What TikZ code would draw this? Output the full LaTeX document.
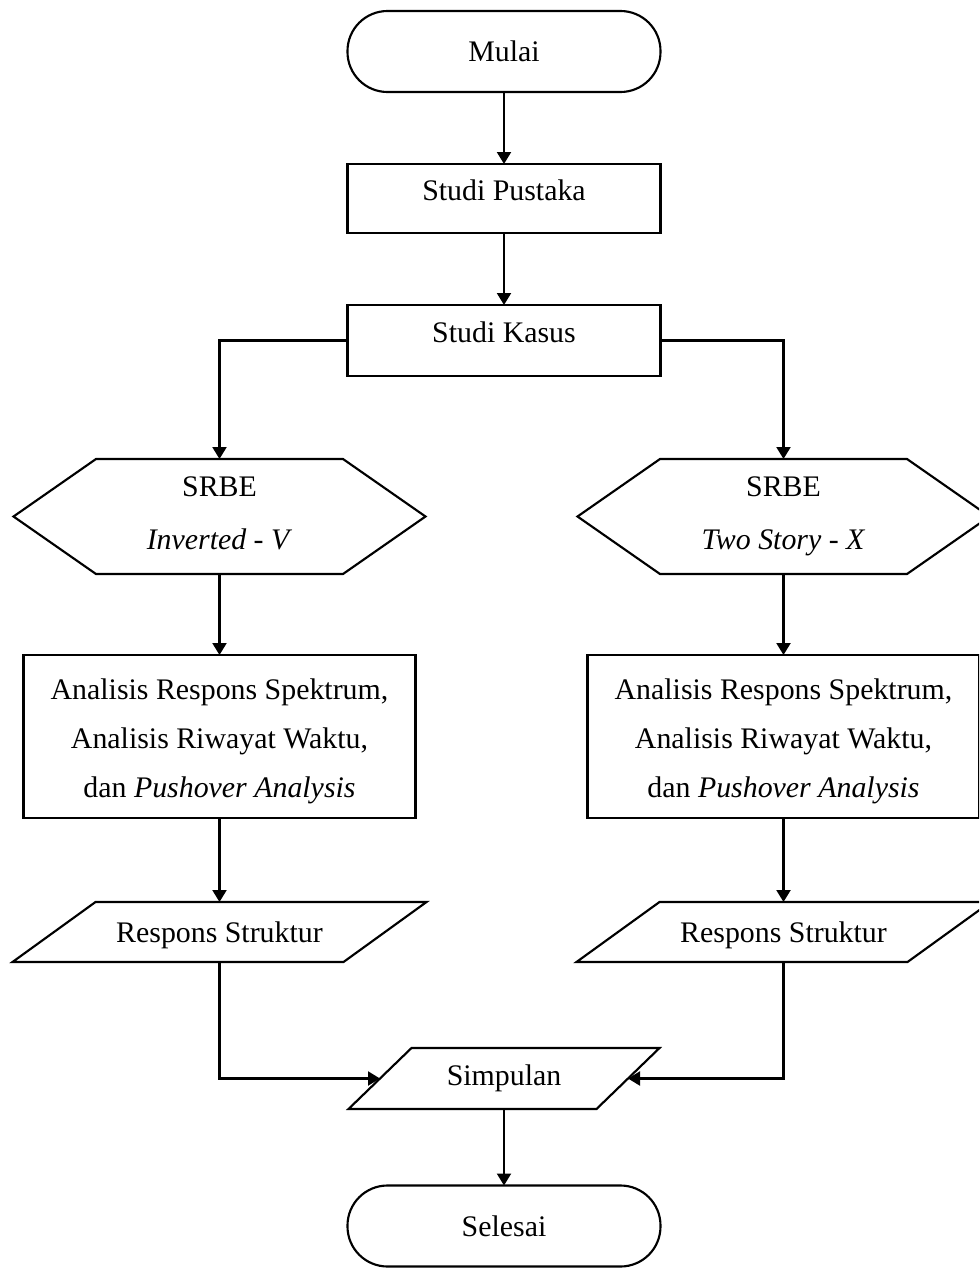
\documentclass[tikz,border=0pt]{standalone}
\usepackage{fontspec}
\setmainfont{Liberation Serif}
\usetikzlibrary{arrows.meta}
\begin{document}
\begin{tikzpicture}[x=0.75pt,y=-0.75pt,
  line width=1.6pt,
  every node/.style={font=\fontsize{22.4pt}{36.75pt}\selectfont, inner sep=0pt, outer sep=0pt},
  termnode/.style={draw, rounded corners=30pt, minimum width=234.75pt, minimum height=60.75pt},
  procbox/.style={draw, minimum width=234.75pt, text height=0.66em, text depth=0.3em},
  hexholder/.style={minimum width=309pt, minimum height=86.25pt, align=center},
  anabox/.style={draw, minimum width=294pt, minimum height=122.25pt, align=center},
  resholder/.style={minimum width=310.5pt, minimum height=45pt, text depth=0pt},
  simpholder/.style={minimum width=233.25pt, minimum height=45.75pt},
  arr/.style={-{Triangle[length=9pt,width=10.5pt]}}
]
\useasboundingbox (0,0) rectangle (979,1268);
\clip (0,0) rectangle (979,1268);

% nodes
\node[termnode] (mulai) at (504,51.5) {Mulai};
\node[procbox, minimum height=51.75pt] (pustaka) at (504,198.5) {Studi Pustaka};
\node[procbox, minimum height=53.25pt] (kasus) at (504,340.5) {Studi Kasus};

\node[hexholder] (hexL) at (219.5,516.5) {SRBE\\[3pt]\textit{Inverted - V}\rule[-0.22em]{0pt}{0.22em}};
\node[hexholder] (hexR) at (783.5,516.5) {SRBE\\[3pt]\textit{Two Story - X}\rule[-0.22em]{0pt}{0.22em}};

\node[anabox] (anaL) at (219.5,736.5) {\rule{0pt}{1.05em}Analisis Respons Spektrum,\\Analisis Riwayat Waktu,\\dan \textit{Pushover Analysis}};
\node[anabox] (anaR) at (783.5,736.5) {\rule{0pt}{1.05em}Analisis Respons Spektrum,\\Analisis Riwayat Waktu,\\dan \textit{Pushover Analysis}};

\node[resholder] (resL) at (219.5,932) {Respons Struktur};
\node[resholder] (resR) at (783.5,932) {Respons Struktur};

\node[simpholder] (simp) at (504,1078.5) {Simpulan};
\node[termnode] (selesai) at (504,1226) {Selesai};

% hexagon outlines
\foreach \h in {hexL,hexR}{
  \draw (\h.west) -- ([xshift=61.875pt]\h.north west) -- ([xshift=-61.875pt]\h.north east)
    -- (\h.east) -- ([xshift=-61.875pt]\h.south east) -- ([xshift=61.875pt]\h.south west) -- cycle;
}
% parallelogram outlines
\foreach \p in {resL,resR}{
  \draw (\p.south west) -- ([xshift=-62.25pt]\p.south east) -- (\p.north east)
    -- ([xshift=62.25pt]\p.north west) -- cycle;
}
\draw (simp.south west) -- ([xshift=-47.25pt]simp.south east) -- (simp.north east)
  -- ([xshift=47.25pt]simp.north west) -- cycle;

% connectors
\draw[arr] (mulai.south) -- (pustaka.north);
\draw[arr] (pustaka.south) -- (kasus.north);
\draw[arr] (kasus.west) -| (hexL.north);
\draw[arr] (kasus.east) -| (hexR.north);
\draw[arr] (hexL.south) -- (anaL.north);
\draw[arr] (hexR.south) -- (anaR.north);
\draw[arr] (anaL.south) -- (resL.north);
\draw[arr] (anaR.south) -- (resR.north);
\draw[arr] (resL.south) |- ([xshift=23.625pt]simp.west);
\draw[arr] (resR.south) |- ([xshift=-23.625pt]simp.east);
\draw[arr] (simp.south) -- (selesai.north);
\end{tikzpicture}
\end{document}
